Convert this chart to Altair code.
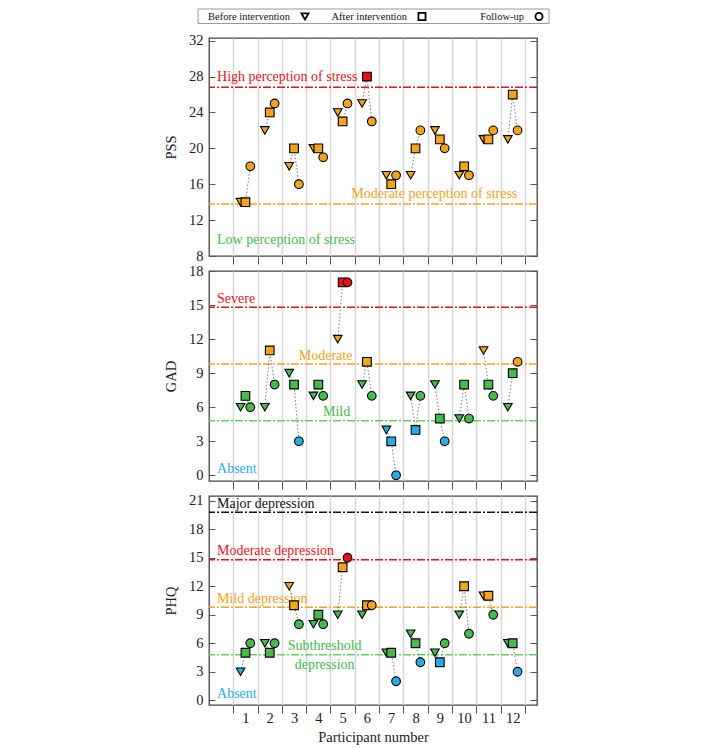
import altair as alt
import pandas as pd

FONT = "Liberation Serif"

participants = list(range(1, 13))
stages = ["Before intervention", "After intervention", "Follow-up"]
shapes = ["triangle-down", "square", "circle"]

pss_before = [14, 22, 18, 20, 24, 25, 17, 17, 22, 17, 21, 21]
pss_after = [14, 24, 20, 20, 23, 28, 16, 20, 21, 18, 21, 26]
pss_follow = [18, 25, 16, 19, 25, 23, 17, 22, 20, 17, 22, 22]

gad_before = [6, 6, 9, 7, 12, 8, 4, 7, 8, 5, 11, 6]
gad_after = [7, 11, 8, 8, 17, 10, 3, 4, 5, 8, 8, 9]
gad_follow = [6, 8, 3, 7, 17, 7, 0, 7, 3, 5, 7, 10]

phq_before = [3, 6, 12, 8, 9, 9, 5, 7, 5, 9, 11, 6]
phq_after = [5, 5, 10, 9, 14, 10, 5, 6, 4, 12, 11, 6]
phq_follow = [6, 6, 8, 8, 15, 10, 2, 4, 6, 7, 9, 3]

RED = "#E8121B"
ORANGE = "#F4A31C"
GREEN = "#46BA4A"
LGREEN = "#5ED35E"
BLUE = "#2AACE2"
BLACK = "#111111"

# category cut points and colours per scale
pss_cuts = [14, 27]
pss_colors = [GREEN, ORANGE, RED]
gad_cuts = [5, 10, 15]
gad_colors = [BLUE, GREEN, ORANGE, RED]
phq_cuts = [5, 10, 15, 20]
phq_colors = [BLUE, GREEN, ORANGE, RED, BLACK]

pss_lines = [26.8, 13.8]
pss_line_colors = [RED, ORANGE]
gad_lines = [14.8, 9.8, 4.8]
gad_line_colors = [RED, ORANGE, LGREEN]
phq_lines = [19.8, 14.8, 9.8, 4.8]
phq_line_colors = [BLACK, RED, ORANGE, LGREEN]

pss_notes = ["High perception of stress", "Moderate perception of stress", "Low perception of stress"]
pss_note_x = [-0.17, 12.19, -0.17]
pss_note_y = [27.5, 14.5, 9.3]
pss_note_align = ["left", "right", "left"]
pss_note_color = [RED, ORANGE, GREEN]

gad_notes = ["Severe", "Moderate", "Mild", "Absent"]
gad_note_x = [-0.17, 4.3, 4.75, -0.17]
gad_note_y = [15.2, 10.15, 5.2, 0.18]
gad_note_align = ["left", "center", "center", "left"]
gad_note_color = [RED, ORANGE, GREEN, BLUE]

phq_notes = ["Major depression", "Moderate depression", "Mild depression",
             "Subthreshold", "depression", "Absent"]
phq_note_x = [-0.17, -0.17, -0.17, 4.26, 4.26, -0.17]
phq_note_y = [20.23, 15.3, 10.28, 5.27, 3.27, 0.27]
phq_note_align = ["left", "left", "left", "center", "center", "left"]
phq_note_color = [BLACK, RED, ORANGE, GREEN, GREEN, BLUE]

W = 328
boundaries = [i + 0.5 for i in range(13)]


def points_df(before, after, follow, cuts, colors):
    rows = []
    for i, p in enumerate(participants):
        for k, vals in enumerate([before, after, follow]):
            v = vals[i]
            lvl = sum(1 for c in cuts if v >= c)
            rows.append({"participant": p, "stage": stages[k], "k": k,
                         "xpos": p + (k - 1) * 0.2, "value": v, "col": colors[lvl]})
    return pd.DataFrame(rows)


def panel(before, after, follow, cuts, colors, lines, line_colors,
          notes, nx, ny, nal, ncol, title, domain, ticks, height, bottom):
    df = points_df(before, after, follow, cuts, colors)
    yscale = alt.Scale(domain=domain, nice=False, zero=False)
    xscale = alt.Scale(domain=[-0.5, 13], nice=False, zero=False)
    if bottom:
        vals = [i / 2 for i in range(1, 26)]
        xaxis = alt.Axis(values=vals, tickSize=8, domain=False, grid=True,
                         labelExpr="datum.value % 1 === 0 ? format(datum.value, 'd') : ''",
                         tickOpacity={"condition": {"test": "datum.value % 1 === 0", "value": 0}, "value": 1},
                         gridOpacity={"condition": {"test": "datum.value % 1 === 0", "value": 0}, "value": 1},
                         labelOverlap=False, labelFlush=False, labelPadding=-2,
                         title="Participant number", titlePadding=6)
    else:
        xaxis = alt.Axis(values=boundaries, tickSize=8, domain=False, grid=True,
                         labels=False, title=None)
    xenc = alt.X("xpos:Q", scale=xscale, axis=xaxis)

    ldf = pd.DataFrame({"thr": lines, "col": line_colors})
    rules = alt.Chart(ldf).mark_rule(strokeDash=[8, 2, 2, 2], strokeWidth=1.5).encode(
        y=alt.Y("thr:Q", scale=yscale, axis=None),
        color=alt.Color("col:N", scale=None),
    )
    ndf = pd.DataFrame({"txt": notes, "nx": nx, "ny": ny, "al": nal, "col": ncol})
    note_layers = []
    for a in ["left", "center", "right"]:
        sub = ndf[ndf["al"] == a]
        if len(sub) == 0:
            continue
        note_layers.append(
            alt.Chart(sub).mark_text(align=a, baseline="alphabetic", font=FONT, fontSize=14).encode(
                x=alt.X("nx:Q", scale=xscale, axis=xaxis),
                y=alt.Y("ny:Q", scale=yscale, axis=None),
                text="txt:N",
                color=alt.Color("col:N", scale=None),
            )
        )
    conn = alt.Chart(df).mark_line(strokeDash=[1.5, 2], color="#7a7a7a", strokeWidth=1).encode(
        x=xenc,
        y=alt.Y("value:Q", scale=yscale,
                axis=alt.Axis(orient="right", values=ticks, tickSize=7, offset=-7,
                              labels=False, domain=False, grid=False, title=None)),
        detail="participant:N",
        order="k:Q",
    )
    pts = alt.Chart(df).mark_point(filled=True, stroke="black", strokeWidth=1.1,
                                   opacity=1, size=75).encode(
        x=xenc,
        y=alt.Y("value:Q", scale=yscale,
                axis=alt.Axis(values=ticks, tickSize=6, offset=-6, labelPadding=6,
                              domain=False, grid=False, title=title, titlePadding=10)),
        shape=alt.Shape("stage:N", scale=alt.Scale(domain=stages, range=shapes), legend=None),
        fill=alt.Fill("col:N", scale=None),
    )
    return alt.layer(rules, *note_layers, conn, pts).resolve_axis(y="independent").properties(
        width=W, height=height)


pss = panel(pss_before, pss_after, pss_follow, pss_cuts, pss_colors, pss_lines, pss_line_colors,
            pss_notes, pss_note_x, pss_note_y, pss_note_align, pss_note_color,
            "PSS", [8, 32.3], [8, 12, 16, 20, 24, 28, 32], 218, False)
gad = panel(gad_before, gad_after, gad_follow, gad_cuts, gad_colors, gad_lines, gad_line_colors,
            gad_notes, gad_note_x, gad_note_y, gad_note_align, gad_note_color,
            "GAD", [-0.5, 18], [0, 3, 6, 9, 12, 15, 18], 210, False)
phq = panel(phq_before, phq_after, phq_follow, phq_cuts, phq_colors, phq_lines, phq_line_colors,
            phq_notes, phq_note_x, phq_note_y, phq_note_align, phq_note_color,
            "PHQ", [-0.5, 21.5], [0, 3, 6, 9, 12, 15, 18, 21], 209, True)

# custom legend row
legend_df = pd.DataFrame({"stage": stages})
lx = alt.X("stage:N", sort=stages, bandPosition=1,
           scale=alt.Scale(type="band", domain=stages, range=[-11, 340], paddingInner=0, paddingOuter=0),
           axis=None)
box = alt.Chart(pd.DataFrame({"b": [0]})).mark_rect(fillOpacity=0, stroke="#9a9a9a", strokeWidth=1).encode(
    x=alt.value(-11), x2=alt.value(340), y=alt.value(0), y2=alt.value(14.5))
ltext = alt.Chart(legend_df).mark_text(align="right", baseline="middle", dx=-25, font=FONT,
                                       fontSize=10.5, color="#111").encode(
    x=lx, y=alt.value(7.5), text="stage:N")
lsym = alt.Chart(legend_df).mark_point(filled=True, fill="white", stroke="black", strokeWidth=1.8,
                                       size=50, xOffset=-10, opacity=1).encode(
    x=lx, y=alt.value(7.5),
    shape=alt.Shape("stage:N", scale=alt.Scale(domain=stages, range=shapes), legend=None))
legend = alt.layer(box, ltext, lsym).properties(width=W, height=14,
                                               view=alt.ViewBackground(strokeOpacity=0))

chart = alt.vconcat(legend, pss, gad, phq, spacing=15, bounds="flush").properties(
    padding={"left": 154, "top": 0, "right": 5, "bottom": 0}
).configure_view(stroke="#444", strokeWidth=1.3).configure_axis(
    labelFont=FONT, titleFont=FONT, labelFontSize=14.5, titleFontSize=14.5,
    titleFontWeight="normal", labelColor="#222", titleColor="#222",
    tickColor="#555", gridColor="#d6d6d6", gridWidth=1.5,
)

chart.save("out.html", embed_options={"renderer": "svg", "actions": False})
